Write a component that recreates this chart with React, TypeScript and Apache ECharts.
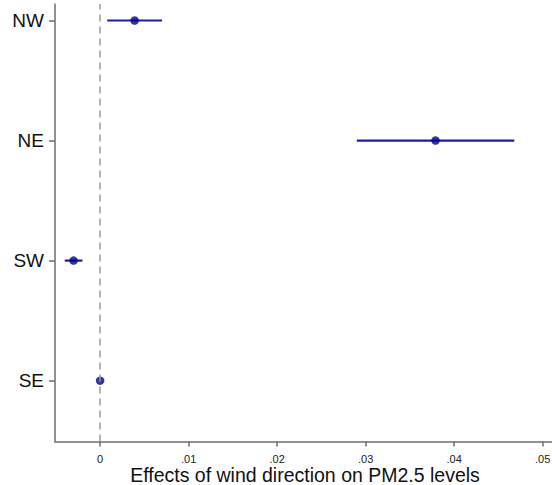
import React, { useEffect, useRef } from "react";
import * as echarts from "echarts";

// Wind-direction coefficients with 95% confidence intervals
const directions = ["SE", "SW", "NE", "NW"];
const estimates = [0.0, -0.0030, 0.0379, 0.0039];
const lowerBounds = [0.0, -0.0040, 0.0290, 0.0008];
const upperBounds = [0.0, -0.0020, 0.0468, 0.0070];
const xTicks = [0, 0.01, 0.02, 0.03, 0.04, 0.05];
const yPositions = [1, 2, 3, 4];

const fmtX = (v: number) => (v === 0 ? "0" : v.toFixed(2).replace(/^0/, ""));

export default function App() {
  const ref = useRef<HTMLDivElement>(null);

  useEffect(() => {
    if (!ref.current) return;
    const chart = echarts.init(ref.current, undefined, { renderer: "svg" });

    const pointData = estimates.map((v, i) => [v, yPositions[i]]);
    const ciData = estimates.map((_, i) => [lowerBounds[i], upperBounds[i], yPositions[i]]);

    chart.setOption({
      animation: false,
      backgroundColor: "#ffffff",
      grid: {
        left: 55,
        right: -3,
        top: 4,
        bottom: 43.5,
        containLabel: false,
        outerBoundsMode: "none",
      },
      xAxis: {
        type: "value",
        min: -0.0051,
        max: 0.0514,
        splitLine: { show: false },
        axisLine: { show: true, onZero: false, lineStyle: { color: "#6e6e6e", width: 1.5 } },
        axisTick: {
          show: true,
          customValues: xTicks,
          length: 5,
          lineStyle: { color: "#6e6e6e", width: 1.5 },
        },
        axisLabel: {
          customValues: xTicks,
          formatter: (v: number) => fmtX(v),
          margin: 12,
          fontSize: 11,
          color: "#222",
          fontFamily: "Liberation Sans",
        },
        name: "Effects of wind direction on PM2.5 levels",
        nameLocation: "middle",
        nameGap: 23,
        nameMoveOverlap: false,
        nameTextStyle: { fontSize: 19.5, color: "#111", fontFamily: "Liberation Sans" },
      },
      yAxis: {
        type: "value",
        min: 0.493,
        max: 4.1375,
        splitLine: { show: false },
        axisLine: { show: true, onZero: false, lineStyle: { color: "#6e6e6e", width: 1.5 } },
        axisTick: {
          show: true,
          customValues: yPositions,
          length: 6,
          lineStyle: { color: "#6e6e6e", width: 1.5 },
        },
        axisLabel: {
          customValues: yPositions,
          formatter: (v: number) => directions[Math.round(v) - 1] ?? "",
          margin: 11,
          fontSize: 19,
          color: "#111",
          fontFamily: "Liberation Sans",
        },
      },
      series: [
        {
          type: "custom",
          data: ciData,
          z: 2,
          renderItem: (params: any, api: any) => {
            const lo = api.coord([api.value(0), api.value(2)]);
            const hi = api.coord([api.value(1), api.value(2)]);
            return {
              type: "line",
              shape: { x1: lo[0], y1: lo[1], x2: hi[0], y2: hi[1] },
              style: { stroke: "#1c1ca3", lineWidth: 2.2 },
            };
          },
          markLine: {
            silent: true,
            symbol: ["none", "none"],
            label: { show: false },
            lineStyle: { color: "#9a9a9a", type: [7, 5], width: 1.5 },
            data: [{ xAxis: 0 }],
          },
        },
        {
          type: "scatter",
          data: pointData,
          symbol: "circle",
          symbolSize: 8.5,
          itemStyle: { color: "#00008b" },
          z: 3,
        },
      ],
    });

    return () => chart.dispose();
  }, []);

  return (
    <div
      ref={ref}
      style={{ position: "fixed", left: 0, top: 0, width: 552, height: 485, background: "#fff" }}
    />
  );
}
